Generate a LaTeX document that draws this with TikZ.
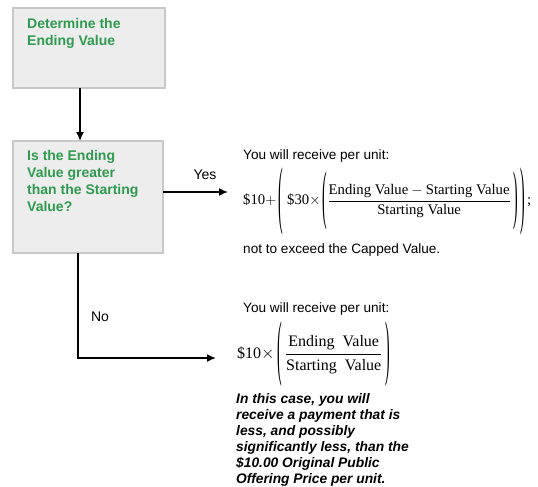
\documentclass[tikz,border=0pt]{standalone}
\usepackage{amsmath}
\usepackage{graphicx}
\usepackage{fontspec}
\setmainfont{Liberation Serif}
\setsansfont{Liberation Sans}
\usetikzlibrary{arrows.meta}
\definecolor{boxfill}{HTML}{EDEDED}
\definecolor{boxline}{HTML}{C8C8C8}
\definecolor{grn}{HTML}{2E9B4E}
\newcommand{\tallp}[2]{\mathord{\vcenter{\hbox{\resizebox{4.6pt}{#1pt}{\rmfamily #2}}}}}
\tikzset{
  flowbox/.style={draw=boxline, fill=boxfill, line width=1.2pt},
  boxtext/.style={anchor=north west, align=left, inner sep=0pt, text=grn,
    font=\sffamily\bfseries\fontsize{14}{17}\selectfont},
  plain/.style={anchor=north west, align=left, inner sep=0pt,
    font=\sffamily\fontsize{13.6}{16}\selectfont},
  note/.style={anchor=north west, align=left, inner sep=0pt,
    font=\sffamily\bfseries\itshape\fontsize{13.8}{16}\selectfont},
  formula/.style={anchor=west, inner sep=0pt, font=\rmfamily\fontsize{14.7}{16}\selectfont},
  conn/.style={line width=1.5pt, -{Latex[length=9pt,width=8pt]}},
  lbl/.style={inner sep=0pt, font=\sffamily\fontsize{14}{16}\selectfont}
}
\begin{document}
\begin{tikzpicture}[x=1pt,y=-1pt]
\useasboundingbox (0,0) rectangle (538,487);
% boxes
\draw[flowbox] (13,8) rectangle (165,88);
\node[boxtext] (t1) at (27,18) {Determine the\\Ending Value};
\coordinate (b1s) at (80,88);
\draw[flowbox] (13,141) rectangle (163,253);
\node[boxtext] (t2) at (27,150) {Is the Ending\\Value greater\\than the Starting\\Value?};
\coordinate (b2n) at (80,141);
\coordinate (b2e) at (163,192);
\coordinate (b2s) at (78,253);
\coordinate (yesend) at (228,192);
\coordinate (nocorner) at (78,358);
\coordinate (noend) at (216,358);
\draw[conn] (b1s) -- (b2n);
\draw[conn] (b2e) -- (yesend);
\draw[conn] (b2s) -- (nocorner) -- (noend);
\node[lbl] (yes) at (205,175) {Yes};
\node[lbl] (no) at (100,317) {No};
% yes branch
\node[plain] (y1) at (243,149) {You will receive per unit:};
\node[formula] (f1) at (243,201) {\$10${+}\,\tallp{52}{(}\;\text{\$30}{\times}\,\tallp{45}{(}\dfrac{\text{Ending Value}-\text{Starting Value}}{\text{Starting Value}}\,\tallp{45}{)}\,\tallp{52}{)}$\,;};
\node[plain] (y2) at (243,243) {not to exceed the Capped Value.};
% no branch
\node[plain] (n1) at (243,302) {You will receive per unit:};
\node[formula,font=\rmfamily\fontsize{16}{18}\selectfont] (f2) at (237,354) {\$10${\times}\,\tallp{50}{(}\,\dfrac{\text{Ending\ \ Value}}{\text{Starting\ \ Value}}\,\tallp{50}{)}$};
\node[note] (n2) at (236,393) {In this case, you will\\receive a payment that is\\less, and possibly\\significantly less, than the\\\$10.00 Original Public\\Offering Price per unit.};
\end{tikzpicture}
\end{document}
